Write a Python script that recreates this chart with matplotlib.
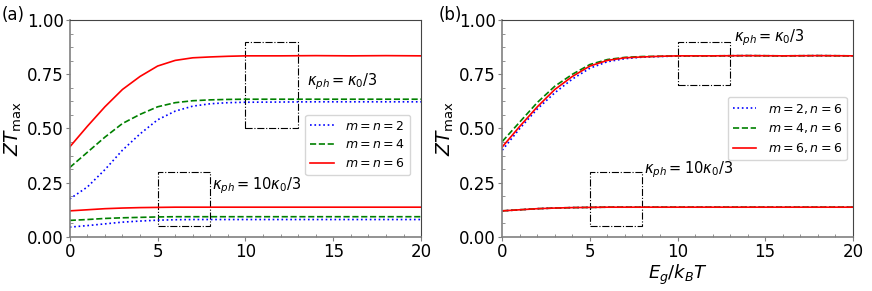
import matplotlib
matplotlib.use("Agg")
import matplotlib.pyplot as plt
from matplotlib.patches import Rectangle
from matplotlib.ticker import AutoMinorLocator

# Eg/kBT grid
x = [0, 1, 2, 3, 4, 5, 6, 7, 8, 9, 10, 12, 14, 16, 18, 20]

# (a) kappa_ph = kappa0/3
a_hi_2 = [0.175, 0.23, 0.31, 0.40, 0.475, 0.54, 0.58, 0.603, 0.614, 0.619, 0.621, 0.622, 0.623, 0.623, 0.623, 0.623]
a_hi_4 = [0.32, 0.39, 0.46, 0.523, 0.565, 0.60, 0.619, 0.628, 0.632, 0.634, 0.635, 0.635, 0.635, 0.635, 0.635, 0.635]
a_hi_6 = [0.415, 0.51, 0.60, 0.68, 0.74, 0.788, 0.814, 0.826, 0.830, 0.833, 0.835, 0.835, 0.836, 0.835, 0.836, 0.835]
# (a) kappa_ph = 10 kappa0/3
a_lo_2 = [0.045, 0.052, 0.060, 0.068, 0.073, 0.077, 0.079, 0.080, 0.080, 0.080, 0.080, 0.080, 0.080, 0.080, 0.080, 0.080]
a_lo_4 = [0.076, 0.080, 0.085, 0.088, 0.090, 0.092, 0.093, 0.093, 0.093, 0.093, 0.093, 0.093, 0.093, 0.093, 0.093, 0.093]
a_lo_6 = [0.120, 0.125, 0.130, 0.133, 0.135, 0.136, 0.137, 0.137, 0.137, 0.137, 0.137, 0.137, 0.137, 0.137, 0.137, 0.137]

# (b) kappa_ph = kappa0/3
b_hi_2 = [0.40, 0.50, 0.59, 0.665, 0.728, 0.778, 0.808, 0.822, 0.829, 0.832, 0.834, 0.835, 0.836, 0.835, 0.836, 0.835]
b_hi_4 = [0.44, 0.53, 0.62, 0.695, 0.750, 0.795, 0.818, 0.828, 0.832, 0.833, 0.835, 0.835, 0.836, 0.835, 0.836, 0.835]
b_hi_6 = [0.415, 0.51, 0.60, 0.68, 0.74, 0.788, 0.814, 0.826, 0.830, 0.833, 0.835, 0.835, 0.836, 0.835, 0.836, 0.835]
# (b) kappa_ph = 10 kappa0/3
b_lo = [0.120, 0.125, 0.130, 0.133, 0.135, 0.136, 0.137, 0.137, 0.137, 0.137, 0.137, 0.137, 0.137, 0.137, 0.137, 0.137]

labels_a = [r"$m=n=2$", r"$m=n=4$", r"$m=n=6$"]
labels_b = [r"$m=2,n=6$", r"$m=4,n=6$", r"$m=6,n=6$"]
styles = [("blue", ":"), ("green", "--"), ("red", "-")]

fig = plt.figure(figsize=(8.72, 2.91), dpi=100)
axa = fig.add_axes([0.080, 0.186, 0.403, 0.745])
axb = fig.add_axes([0.576, 0.186, 0.402, 0.745])


def style_ax(ax):
    ax.set_xlim(0, 20)
    ax.set_ylim(0, 1)
    ax.set_xticks([0, 5, 10, 15, 20])
    ax.set_yticks([0, 0.25, 0.5, 0.75, 1.0])
    ax.xaxis.set_minor_locator(AutoMinorLocator(5))
    ax.yaxis.set_minor_locator(AutoMinorLocator(4))
    ax.tick_params(which="major", direction="out", length=3, width=0.8, color="gray", labelsize=12, pad=1.5)
    ax.tick_params(which="minor", direction="in", length=2.5, width=0.6, color="gray")
    for s in ["left", "bottom"]:
        ax.spines[s].set_color("gray")
        ax.spines[s].set_linewidth(1.2)
    for s in ["top", "right"]:
        ax.spines[s].set_color("#444444")
    ax.set_ylabel(r"$ZT_{\rm max}$", fontsize=13.5, labelpad=2)


# panel (a)
hi = [a_hi_2, a_hi_4, a_hi_6]
lo = [a_lo_2, a_lo_4, a_lo_6]
for (c, ls), lab, yh, yl in zip(styles, labels_a, hi, lo):
    axa.plot(x, yh, color=c, ls=ls, lw=1.2, label=lab)
    axa.plot(x, yl, color=c, ls=ls, lw=1.2)
axa.add_patch(Rectangle((10, 0.5), 3, 0.4, fill=False, ls="-.", lw=0.8, ec="k"))
axa.add_patch(Rectangle((5, 0.05), 3, 0.25, fill=False, ls="-.", lw=0.8, ec="k"))
axa.text(13.5, 0.714, r"$\kappa_{ph}=\kappa_0/3$", fontsize=10.5, va="center")
axa.text(8.1, 0.235, r"$\kappa_{ph}=10\kappa_0/3$", fontsize=10.5, va="center")
axa.legend(loc="center right", bbox_to_anchor=(0.969, 0.424), borderaxespad=0,
           fontsize=9, handlelength=1.9, handletextpad=0.9, labelspacing=0.45)
style_ax(axa)

# panel (b)
hi = [b_hi_2, b_hi_4, b_hi_6]
for (c, ls), lab, yh in zip(styles, labels_b, hi):
    axb.plot(x, yh, color=c, ls=ls, lw=1.2, label=lab)
    axb.plot(x, b_lo, color=c, ls=ls, lw=1.2)
axb.add_patch(Rectangle((10, 0.7), 3, 0.2, fill=False, ls="-.", lw=0.8, ec="k"))
axb.add_patch(Rectangle((5, 0.05), 3, 0.25, fill=False, ls="-.", lw=0.8, ec="k"))
axb.text(13.2, 0.917, r"$\kappa_{ph}=\kappa_0/3$", fontsize=10.5, va="center")
axb.text(8.1, 0.31, r"$\kappa_{ph}=10\kappa_0/3$", fontsize=10.5, va="center")
axb.legend(loc="center right", bbox_to_anchor=(0.983, 0.50), borderaxespad=0,
           fontsize=9, handlelength=1.9, handletextpad=0.9, labelspacing=0.45)
style_ax(axb)
axb.set_xlabel(r"$E_g/k_BT$", fontsize=13, labelpad=1)

fig.text(0.002, 0.95, "(a)", fontsize=12, va="center")
fig.text(0.503, 0.95, "(b)", fontsize=12, va="center")

fig.savefig("out.png", dpi=100)
